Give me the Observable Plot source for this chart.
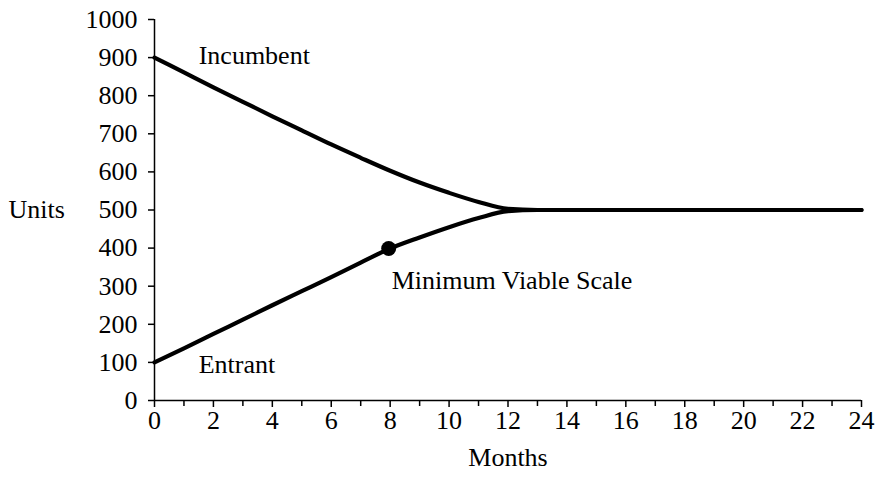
<!DOCTYPE html>
<html>
<head>
<meta charset="utf-8">
<script src="https://cdn.jsdelivr.net/npm/d3@7"></script>
<script src="https://cdn.jsdelivr.net/npm/@observablehq/plot@0.6"></script>
<style>
  html, body { margin: 0; padding: 0; background: white; }
</style>
</head>
<body>
<div id="chart"></div>
<script>
// Months (x) and units (y)
const incumbentMonths = [0, 1, 2, 3, 4, 5, 6, 7, 8, 9, 10, 11, 12, 13, 24];
const incumbentUnits  = [900, 861, 822, 784, 746, 709, 672, 637, 603, 572, 545, 521, 503, 500, 500];
const entrantMonths   = [0, 1, 2, 3, 4, 5, 6, 7, 8, 9, 10, 11, 12, 13, 24];
const entrantUnits    = [100, 137, 175, 212, 250, 287, 324, 362, 399, 428, 455, 479, 497, 500, 500];
const mvsMonth = [7.95];
const mvsUnits = [399];

const yTicks = [0, 100, 200, 300, 400, 500, 600, 700, 800, 900, 1000];
const xMajorTicks = [0, 2, 4, 6, 8, 10, 12, 14, 16, 18, 20, 22, 24];
const xMinorTicks = [1, 3, 5, 7, 9, 11, 13, 15, 17, 19, 21, 23];

const seriesLabels = ["Incumbent", "Entrant"];
const pointLabel = "Minimum Viable Scale";
const xTitle = "Months";
const yTitle = "Units";

const incumbent = incumbentMonths.map((m, i) => ({month: m, units: incumbentUnits[i]}));
const entrant = entrantMonths.map((m, i) => ({month: m, units: entrantUnits[i]}));
const mvs = mvsMonth.map((m, i) => ({month: m, units: mvsUnits[i]}));

const font = "'Liberation Serif', 'Times New Roman', serif";

const chart = Plot.plot({
  width: 877,
  height: 477,
  marginLeft: 154,
  marginRight: 16,
  marginTop: 19,
  marginBottom: 77,
  style: {fontFamily: font, fontSize: "26px", background: "white", color: "black"},
  x: {domain: [0, 24]},
  y: {domain: [0, 1000]},
  marks: [
    Plot.axisY({ticks: yTicks, tickSize: 6, tickPadding: 11, tickFormat: d => String(d), label: null, fontSize: 26, strokeWidth: 1.5}),
    Plot.axisX({ticks: xMajorTicks, tickSize: 7, tickPadding: 3, tickFormat: d => String(d), label: null, fontSize: 26, strokeWidth: 1.5}),
    Plot.axisX({ticks: xMinorTicks, tickSize: 6, tickFormat: () => "", label: null, strokeWidth: 1.5}),
    Plot.ruleX([0], {stroke: "black", strokeWidth: 1.5}),
    Plot.ruleY([0], {stroke: "black", strokeWidth: 1.5}),
    Plot.line(incumbent, {x: "month", y: "units", stroke: "black", strokeWidth: 4.2, curve: "monotone-x"}),
    Plot.line(entrant, {x: "month", y: "units", stroke: "black", strokeWidth: 4.2, curve: "monotone-x"}),
    Plot.dot(mvs, {x: "month", y: "units", r: 7.5, fill: "black", stroke: "none"}),
    Plot.text([seriesLabels[0]], {x: () => 1.5, y: () => 905, textAnchor: "start", fontSize: 26}),
    Plot.text([seriesLabels[1]], {x: () => 1.5, y: () => 94, textAnchor: "start", fontSize: 26}),
    Plot.text([pointLabel], {x: () => 8.05, y: () => 315, textAnchor: "start", fontSize: 26}),
    Plot.text([xTitle], {frameAnchor: "bottom", dy: 65, fontSize: 26}),
    Plot.text([yTitle], {frameAnchor: "left", dx: -146, textAnchor: "start", fontSize: 26})
  ]
});
document.getElementById("chart").appendChild(chart);
</script>
</body>
</html>
